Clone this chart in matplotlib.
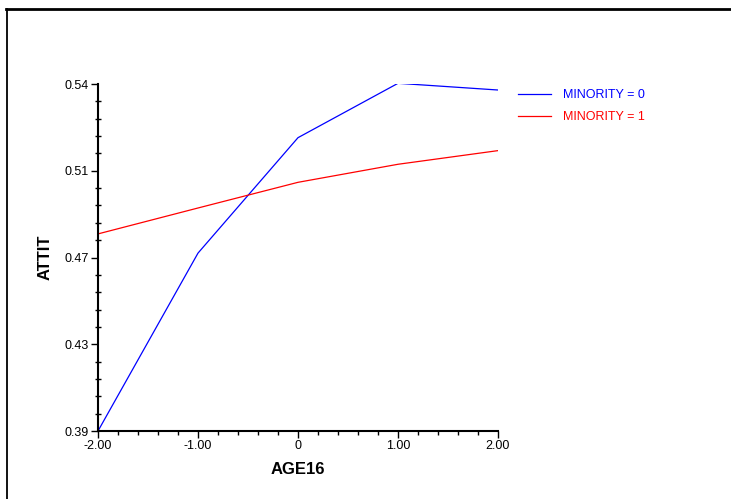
import matplotlib
matplotlib.use("Agg")
import matplotlib.pyplot as plt
from matplotlib.lines import Line2D
from matplotlib.ticker import FixedLocator, AutoMinorLocator

plt.rcParams['font.family'] = ['Liberation Sans', 'DejaVu Sans']

# Predicted ATTIT by AGE16, split by MINORITY
age16 = [-2.0, -1.0, 0.0, 1.0, 2.0]
attit_min0 = [0.3900, 0.4669, 0.5168, 0.5403, 0.5374]
attit_min1 = [0.4752, 0.4864, 0.4975, 0.5053, 0.5112]

x_ticks = [-2.0, -1.0, 0.0, 1.0, 2.0]
x_labels = ['-2.00', '-1.00', '0', '1.00', '2.00']
y_ticks = [0.39, 0.4275, 0.465, 0.5025, 0.54]
y_labels = ['0.39', '0.43', '0.47', '0.51', '0.54']

fig = plt.figure(figsize=(7.31, 4.99), dpi=100)
ax = fig.add_axes([98 / 731, 1 - 431 / 499, 400 / 731, 347 / 499])

ax.plot(age16, attit_min0, color='#0000ff', lw=0.9, label='MINORITY = 0')
ax.plot(age16, attit_min1, color='#ff0000', lw=0.9, label='MINORITY = 1')

ax.set_xlim(-2, 2)
ax.set_ylim(0.39, 0.54)
ax.xaxis.set_major_locator(FixedLocator(x_ticks))
ax.set_xticklabels(x_labels)
ax.yaxis.set_major_locator(FixedLocator(y_ticks))
ax.set_yticklabels(y_labels)
ax.xaxis.set_minor_locator(AutoMinorLocator(5))
ax.yaxis.set_minor_locator(AutoMinorLocator(5))

for side in ['top', 'right']:
    ax.spines[side].set_visible(False)
for side in ['left', 'bottom']:
    ax.spines[side].set_linewidth(1.5)
    ax.spines[side].set_color('black')

ax.tick_params(which='major', direction='out', length=5, width=1.0,
               labelsize=9, pad=1.5, colors='black')
ax.tick_params(axis='y', which='minor', direction='inout', length=5, width=1.0)
ax.tick_params(axis='x', which='minor', direction='out', length=3, width=1.0)

ax.set_xlabel('AGE16', fontsize=12, fontweight='bold', labelpad=7)
ax.set_ylabel('ATTIT', fontsize=12, fontweight='bold', labelpad=9)

leg = fig.legend(loc='upper left', bbox_to_anchor=(507 / 731, 1 - 78 / 499),
                 frameon=False, fontsize=9, handlelength=2.64,
                 handletextpad=0.95, labelspacing=0.8, labelcolor='linecolor')

# outer frame lines along the top and left edges
fig.add_artist(Line2D([6 / 731, 1.0], [1 - 8.5 / 499, 1 - 8.5 / 499],
                      transform=fig.transFigure, color='black', lw=2))
fig.add_artist(Line2D([6.5 / 731, 6.5 / 731], [0.0, 1 - 8.5 / 499],
                      transform=fig.transFigure, color='black', lw=1.3))

fig.savefig('out.png', dpi=100)
